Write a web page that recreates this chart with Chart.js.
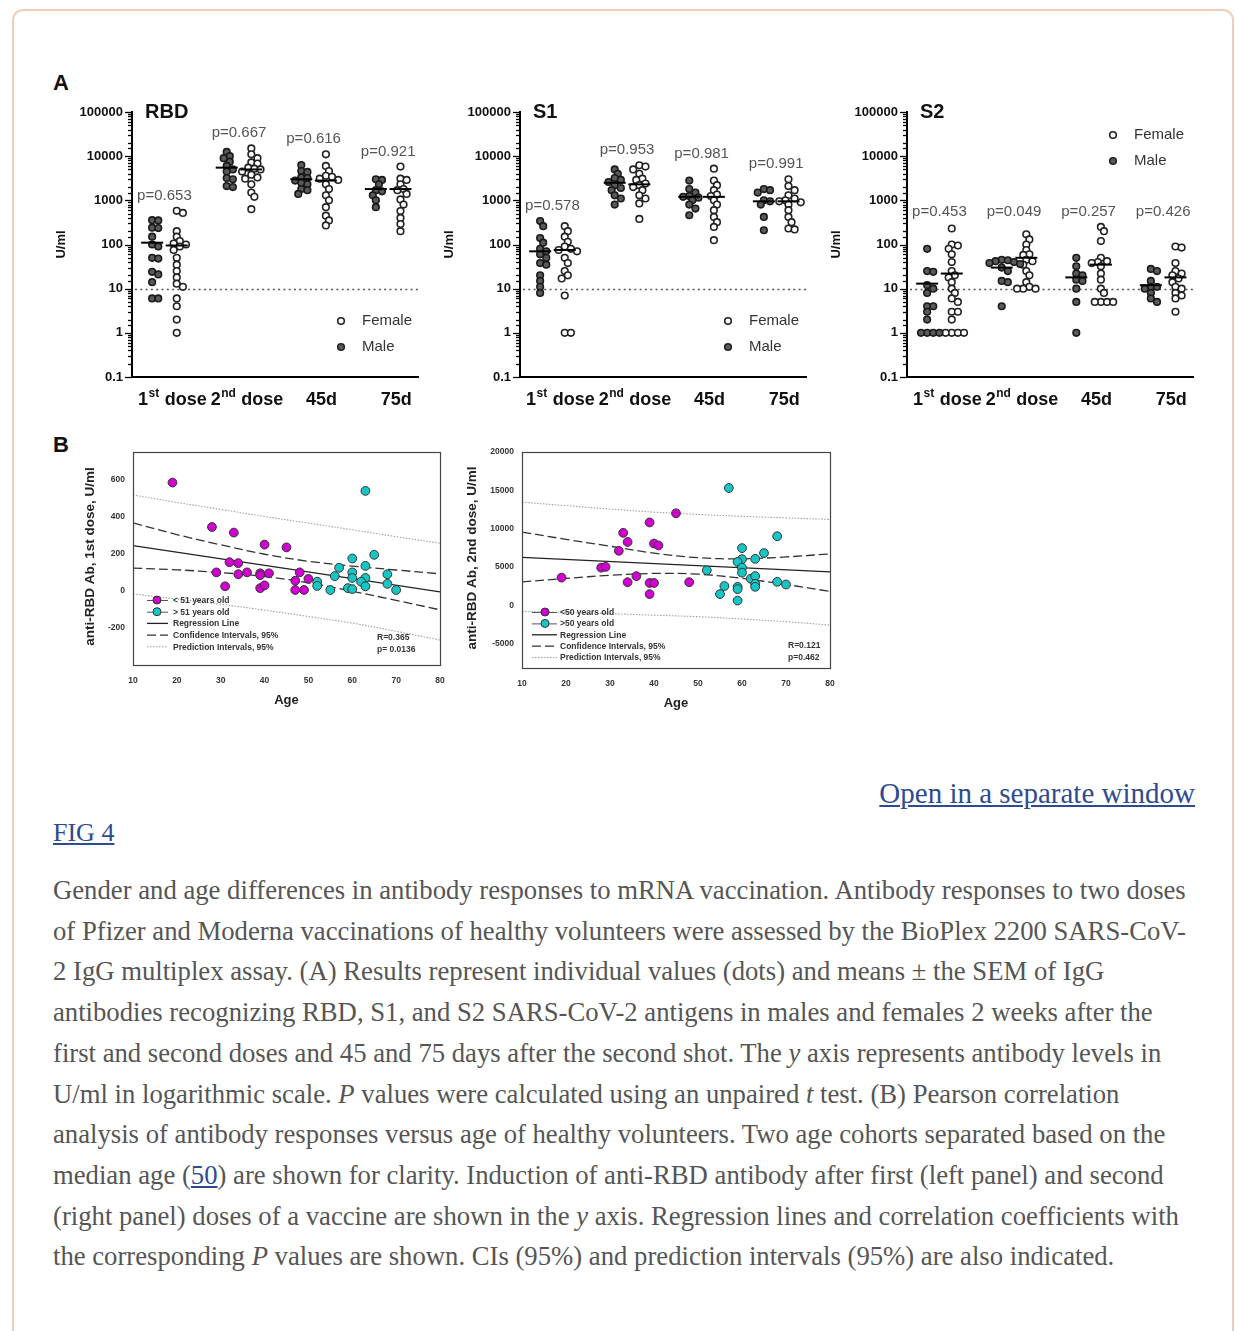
<!DOCTYPE html>
<html><head><meta charset="utf-8">
<script src="https://cdn.jsdelivr.net/npm/chart.js"></script>
<style>
html,body{margin:0;padding:0;background:#fff;}
body{width:1235px;height:1331px;overflow:hidden;position:relative;font-family:'Liberation Sans',Arial,sans-serif;}
.card{position:absolute;left:12px;top:9px;width:1222px;height:1400px;border:2px solid #f1cdb9;border-radius:11px;box-sizing:border-box;}
canvas{position:absolute;}
.plabel{position:absolute;font-weight:bold;font-size:22px;line-height:22px;color:#111;}
.open{position:absolute;right:40px;top:777px;font-family:'Liberation Serif','Times New Roman',serif;font-size:29px;line-height:32px;color:#2f4b8f;text-decoration:underline;white-space:nowrap;}
.fig{position:absolute;left:53px;top:818px;font-family:'Liberation Serif','Times New Roman',serif;font-size:26px;line-height:30px;color:#2f4b8f;text-decoration:underline;}
.cap{position:absolute;left:53px;top:870px;font-family:'Liberation Serif','Times New Roman',serif;font-size:26.7px;line-height:40.7px;color:#555;white-space:nowrap;}
.cap a{color:#2f4b8f;text-decoration:underline;}
</style></head>
<body>
<div class="card"></div>
<div class="plabel" style="left:53px;top:72px;">A</div>
<div class="plabel" style="left:53px;top:434px;">B</div>
<canvas id="rbd" width="376" height="323" style="left:55px;top:92px;"></canvas>
<canvas id="s1" width="376" height="323" style="left:443px;top:92px;"></canvas>
<canvas id="s2" width="376" height="323" style="left:830px;top:92px;"></canvas>
<canvas id="b1" width="380" height="280" style="left:75px;top:440px;"></canvas>
<canvas id="b2" width="381" height="283" style="left:464px;top:440px;"></canvas>
<div class="open">Open in a separate window</div>
<div class="fig">FIG 4</div>
<div class="cap">
<div>Gender and age differences in antibody responses to mRNA vaccination. Antibody responses to two doses</div>
<div>of Pfizer and Moderna vaccinations of healthy volunteers were assessed by the BioPlex 2200 SARS-CoV-</div>
<div>2 IgG multiplex assay. (A) Results represent individual values (dots) and means ± the SEM of IgG</div>
<div>antibodies recognizing RBD, S1, and S2 SARS-CoV-2 antigens in males and females 2 weeks after the</div>
<div>first and second doses and 45 and 75 days after the second shot. The <i>y</i> axis represents antibody levels in</div>
<div>U/ml in logarithmic scale. <i>P</i> values were calculated using an unpaired <i>t</i> test. (B) Pearson correlation</div>
<div>analysis of antibody responses versus age of healthy volunteers. Two age cohorts separated based on the</div>
<div>median age (<a>50</a>) are shown for clarity. Induction of anti-RBD antibody after first (left panel) and second</div>
<div>(right panel) doses of a vaccine are shown in the <i>y</i> axis. Regression lines and correlation coefficients with</div>
<div>the corresponding <i>P</i> values are shown. CIs (95%) and prediction intervals (95%) are also indicated.</div>
</div>
<script>
// ---------------- DATA ----------------
const categories = ['1st dose', '2nd dose', '45d', '75d'];
const cutoffValue = 10;
const legendA = ['Female', 'Male'];

const rbdMale = [
  [355, 350, 240, 235, 150, 100, 90, 50, 48, 24, 21, 14, 6, 6],
  [12500, 10000, 9000, 7500, 6000, 5000, 4500, 3200, 3000, 2100, 2000],
  [6300, 4600, 4400, 3300, 3200, 2800, 2500, 2300, 1800, 1700, 1400],
  [3000, 2900, 2300, 1700, 1600, 1300, 1000, 700]
];
const rbdFemale = [
  [580, 520, 200, 150, 120, 105, 100, 90, 75, 50, 35, 25, 18, 13, 11, 6, 4, 2, 1],
  [15000, 11000, 9000, 7200, 6800, 5500, 5200, 5000, 4500, 3800, 3300, 3100, 2300, 1500, 1200, 630],
  [11000, 6000, 4600, 3600, 3400, 3100, 2900, 2300, 1800, 1300, 1000, 700, 450, 350, 270],
  [5800, 3100, 2900, 2300, 1800, 1700, 1400, 1050, 800, 570, 400, 290, 200]
];
const rbdMaleMean = [110, 5500, 3000, 1800];
const rbdFemaleMean = [95, 5000, 2800, 1800];
const rbdP = ['p=0.653', 'p=0.667', 'p=0.616', 'p=0.921'];

const s1Male = [
  [340, 260, 140, 110, 80, 70, 60, 50, 38, 35, 20, 15, 11, 8],
  [5000, 4000, 3200, 2900, 2600, 2200, 1900, 1700, 1300, 1100, 800],
  [2800, 1800, 1500, 1250, 1200, 1150, 1000, 800, 650, 460],
  [1800, 1700, 1500, 1000, 950, 800, 420, 210]
];
const s1Female = [
  [260, 200, 150, 115, 90, 80, 75, 70, 50, 38, 25, 20, 17, 7, 1, 1],
  [6200, 5800, 5000, 4000, 3100, 2900, 2400, 2200, 2000, 1700, 1300, 1100, 850, 380],
  [5200, 2800, 2200, 1700, 1350, 1250, 1000, 800, 600, 420, 320, 250, 125],
  [3000, 2100, 1700, 1300, 1100, 1000, 950, 900, 800, 600, 420, 320, 230, 220]
];
const s1MaleMean = [70, 2500, 1200, 950];
const s1FemaleMean = [75, 2300, 1200, 950];
const s1P = ['p=0.578', 'p=0.953', 'p=0.981', 'p=0.991'];

const s2Male = [
  [80, 25, 24, 12, 10, 8, 4, 4, 3, 2, 1, 1, 1, 1],
  [45, 44, 42, 40, 38, 36, 30, 25, 15, 14, 4],
  [50, 32, 22, 20, 16, 15, 10, 5, 1],
  [28, 25, 15, 11, 11, 10, 8, 6, 5]
];
const s2Female = [
  [230, 100, 95, 80, 60, 40, 25, 20, 18, 14, 10, 8, 6, 5, 3, 3, 2, 1, 1, 1, 1],
  [170, 130, 100, 75, 60, 58, 45, 42, 35, 25, 20, 14, 11, 10, 10, 10],
  [250, 200, 120, 50, 42, 40, 38, 32, 22, 16, 10, 8, 5, 5, 5, 5],
  [90, 85, 38, 25, 22, 20, 17, 14, 11, 10, 8, 7, 6, 3]
];
const s2MaleMean = [13, 30, 18, 12];
const s2FemaleMean = [22, 50, 35, 18];
const s2P = ['p=0.453', 'p=0.049', 'p=0.257', 'p=0.426'];

// Panel B
const bXTicks = [10, 20, 30, 40, 50, 60, 70, 80];
const b1YTicks = [-200, 0, 200, 400, 600];
const b2YTicks = [-5000, 0, 5000, 10000, 15000, 20000];

const b1YoungAge = [19, 28, 33, 40, 45, 32, 34, 29, 34, 36, 39, 39, 41, 31, 39, 40, 48, 47, 50, 47, 49];
const b1YoungVal = [585, 345, 315, 250, 235, 155, 150, 100, 90, 100, 95, 85, 95, 25, 15, 30, 100, 55, 65, 5, 5];
const b1OldAge = [63, 65, 60, 63, 57, 60, 68, 56, 60, 63, 62, 52, 52, 55, 59, 60, 63, 68, 70];
const b1OldVal = [540, 195, 175, 135, 125, 100, 90, 80, 70, 70, 50, 50, 27, 5, 15, 10, 25, 38, 5];
const b1RegAges = [10, 80];
const b1Reg = [245, -5];
const b1BandAges = [10, 20, 30, 40, 50, 60, 70, 80];
const b1CiUpper = [367, 304, 249, 198, 160, 134, 113, 92];
const b1CiLower = [123, 114, 99, 78, 44, -2, -51, -102];
const b1PiUpper = [518, 478, 440, 402, 366, 330, 293, 257];
const b1PiLower = [-16, -44, -72, -104, -138, -174, -218, -265];
const b1Legend = ['< 51 years old', '> 51 years old', 'Regression Line', 'Confidence Intervals, 95%', 'Prediction Intervals, 95%'];
const b1Stats = ['R=0.365', 'p= 0.0136'];

const b2YoungAge = [19, 28, 29, 32, 33, 34, 34, 36, 39, 39, 39, 40, 40, 41, 45, 48];
const b2YoungVal = [3600, 4900, 5000, 7100, 9450, 8250, 3000, 3800, 10800, 1450, 2900, 2900, 8050, 7800, 12000, 3000];
const b2OldAge = [57, 68, 60, 65, 63, 60, 59, 60, 60, 52, 62, 63, 63, 63, 68, 70, 56, 59, 59, 55, 59];
const b2OldVal = [15300, 9000, 7450, 6800, 6050, 6000, 5650, 4900, 4250, 4550, 3450, 3800, 2800, 2400, 3050, 2700, 2500, 2400, 2100, 1450, 600];
const b2RegAges = [10, 80];
const b2Reg = [6250, 4350];
const b2BandAges = [10, 20, 30, 40, 50, 60, 70, 80];
const b2CiUpper = [9550, 8600, 7700, 6800, 6200, 6050, 6300, 6700];
const b2CiLower = [3050, 3500, 3900, 4150, 4050, 3500, 2700, 1800];
const b2PiUpper = [13450, 13000, 12550, 12150, 11850, 11600, 11400, 11200];
const b2PiLower = [-800, -950, -1100, -1300, -1500, -1800, -2150, -2600];
const b2Legend = ['<50 years old', '>50 years old', 'Regression Line', 'Confidence Intervals, 95%', 'Prediction Intervals, 95%'];
const b2Stats = ['R=0.121', 'p=0.462'];

// ---------------- HELPERS ----------------
const FONT = "'Liberation Sans', Arial, Helvetica, sans-serif";
const isPow10 = v => Math.abs(Math.log10(v) - Math.round(Math.log10(v))) < 1e-6;
const X_MIN = 0.565, X_MAX = 4.4, COL_OFF = 0.165;
const PX_X = 289 / (X_MAX - X_MIN), PX_DEC = 265 / 6;

function swarm(values, center) {
  const D = 6.2;
  const placed = [];
  const order = values.map((v, i) => i).sort((a, b) => values[b] - values[a]);
  const cands = [0];
  for (let k = 1; k <= 16; k++) cands.push(k * D / 2, -k * D / 2);
  const out = [];
  order.forEach(i => {
    const yy = Math.log10(values[i]) * PX_DEC;
    let off = 0;
    for (const c of cands) {
      if (placed.every(p => Math.hypot(p.x - c, p.y - yy) >= D * 0.85)) { off = c; break; }
    }
    placed.push({x: off, y: yy});
    out.push({x: center + off / PX_X, y: values[i]});
  });
  return out;
}

function drawSupLabel(ctx, text, cx, baseline, size) {
  const m = text.match(/^(\d+)(st|nd|rd|th)(.*)$/);
  const big = `bold ${size}px ${FONT}`, small = `bold ${Math.round(size * 0.65)}px ${FONT}`;
  ctx.textAlign = 'left'; ctx.textBaseline = 'alphabetic';
  if (!m) { ctx.font = big; const w = ctx.measureText(text).width; ctx.fillText(text, cx - w / 2, baseline); return; }
  ctx.font = big; const w1 = ctx.measureText(m[1]).width; const w3 = ctx.measureText(m[3]).width;
  ctx.font = small; const w2 = ctx.measureText(m[2]).width;
  let x = cx - (w1 + w2 + w3 + 1) / 2;
  ctx.font = big; ctx.fillText(m[1], x, baseline); x += w1 + 0.5;
  ctx.font = small; ctx.fillText(m[2], x, baseline - size * 0.42); x += w2 + 0.5;
  ctx.font = big; ctx.fillText(m[3], x, baseline);
}

function drawMarker(ctx, x, y, filled) {
  ctx.beginPath(); ctx.arc(x, y, 3.3, 0, Math.PI * 2);
  ctx.fillStyle = filled ? '#5a5a5a' : '#fff'; ctx.fill();
  ctx.lineWidth = 1.6; ctx.strokeStyle = '#222'; ctx.stroke();
}

function makePanelA(id, cfg) {
  const plugin = {
    id: 'panelA_' + id,
    beforeDatasetsDraw(chart) {
      const {ctx, chartArea: a, scales: {y}} = chart;
      const py = Math.round(y.getPixelForValue(cutoffValue)) + 0.5;
      ctx.save(); ctx.strokeStyle = '#555'; ctx.lineWidth = 1.6; ctx.setLineDash([2, 3.3]);
      ctx.beginPath(); ctx.moveTo(a.left + 3, py); ctx.lineTo(a.right, py); ctx.stroke(); ctx.restore();
    },
    afterDraw(chart) {
      const {ctx, chartArea: a, scales: {x, y}} = chart;
      ctx.save();
      ctx.strokeStyle = '#000'; ctx.lineWidth = 1.3;
      y.ticks.forEach(t => {
        const py = Math.round(y.getPixelForValue(t.value)) + 0.5;
        const len = isPow10(t.value) ? 6 : 3;
        ctx.beginPath(); ctx.moveTo(a.left - 1 - len, py); ctx.lineTo(a.left, py); ctx.stroke();
      });
      ctx.fillStyle = '#111'; ctx.font = `bold 20px ${FONT}`; ctx.textAlign = 'left'; ctx.textBaseline = 'alphabetic';
      ctx.fillText(cfg.title, a.left + 13, a.top + 6);
      ctx.save(); ctx.translate(a.left - 71, (a.top + a.bottom) / 2); ctx.rotate(-Math.PI / 2);
      ctx.font = `bold 13px ${FONT}`; ctx.textAlign = 'center'; ctx.textBaseline = 'middle';
      ctx.fillText('U/ml', 0, 0); ctx.restore();
      // p labels
      const tops = categories.map((c, i) => y.getPixelForValue(Math.max(...cfg.male[i], ...cfg.female[i])) - 11);
      const level = Math.min(...tops);
      ctx.font = `15px ${FONT}`; ctx.fillStyle = '#555'; ctx.textAlign = 'center';
      cfg.p.forEach((t, i) => ctx.fillText(t, x.getPixelForValue(i + 1), cfg.alignP ? level : tops[i]));
      // categories
      ctx.fillStyle = '#111';
      categories.forEach((c, i) => drawSupLabel(ctx, c, x.getPixelForValue(i + 1) + 8, a.bottom + 28, 18));
      // legend
      const lx = a.left + cfg.legend[0], ly = a.top + cfg.legend[1];
      legendA.forEach((t, i) => {
        drawMarker(ctx, lx, ly + i * 26, i === 1);
        ctx.fillStyle = '#333'; ctx.font = `15px ${FONT}`; ctx.textAlign = 'left'; ctx.textBaseline = 'middle';
        ctx.fillText(t, lx + 21, ly + i * 26);
      });
      ctx.restore();
    }
  };
  const maleData = cfg.male.flatMap((vals, i) => swarm(vals, i + 1 - COL_OFF));
  const femaleData = cfg.female.flatMap((vals, i) => swarm(vals, i + 1 + COL_OFF));
  const meanLine = (arr, side) => ({
    data: arr.map((m, i) => ({x: i + 1 + side, y: m})),
    pointStyle: 'line', pointRadius: 11, pointBorderWidth: 2, pointBorderColor: '#000', pointBackgroundColor: '#000'
  });
  new Chart(document.getElementById(id), {
    type: 'scatter',
    data: {datasets: [
      meanLine(cfg.maleMean, -COL_OFF),
      meanLine(cfg.femaleMean, COL_OFF),
      {data: maleData, pointRadius: 3.3, pointBorderWidth: 1.6, pointBorderColor: '#1a1a1a', pointBackgroundColor: '#5a5a5a'},
      {data: femaleData, pointRadius: 3.3, pointBorderWidth: 1.6, pointBorderColor: '#222', pointBackgroundColor: '#fff'}
    ]},
    options: {
      responsive: false, animation: false, events: [],
      layout: {padding: {top: 20, right: 10, left: 0, bottom: 0}},
      plugins: {legend: {display: false}, tooltip: {enabled: false}},
      scales: {
        x: {type: 'linear', min: X_MIN, max: X_MAX, ticks: {display: false},
            grid: {display: false, drawTicks: false}, border: {display: true, color: '#000', width: 2},
            afterFit(s) { s.height = 38; }},
        y: {type: 'logarithmic', min: 0.1, max: 100000,
            ticks: {autoSkip: false, padding: 3, color: '#111', font: {family: FONT, size: 13, weight: 'bold'},
                    callback: v => isPow10(v) ? String(v) : ''},
            grid: {display: false, drawTicks: true, tickLength: 6},
            border: {display: true, color: '#000', width: 2},
            afterFit(s) { s.width = 77; }}
      }
    },
    plugins: [plugin]
  });
}

makePanelA('rbd', {title: 'RBD', male: rbdMale, female: rbdFemale, maleMean: rbdMaleMean, femaleMean: rbdFemaleMean, p: rbdP, alignP: false, legend: [209, 209]});
makePanelA('s1', {title: 'S1', male: s1Male, female: s1Female, maleMean: s1MaleMean, femaleMean: s1FemaleMean, p: s1P, alignP: false, legend: [208, 209]});
makePanelA('s2', {title: 'S2', male: s2Male, female: s2Female, maleMean: s2MaleMean, femaleMean: s2FemaleMean, p: s2P, alignP: true, legend: [206, 23]});

function makePanelB(id, cfg) {
  const pts = (ages, vals) => ages.map((a, i) => ({x: a, y: vals[i]}));
  const MAG = '#d000d0', CYAN = '#16c6c6';
  const plugin = {
    id: 'panelB_' + id,
    afterDraw(chart) {
      const {ctx, chartArea: a} = chart;
      ctx.save();
      ctx.strokeStyle = '#444'; ctx.lineWidth = 1.2;
      ctx.strokeRect(Math.round(a.left) + 0.5, Math.round(a.top) + 0.5, Math.round(a.right - a.left), Math.round(a.bottom - a.top));
      // legend
      const L = cfg.leg;
      ctx.font = `bold 8.5px ${FONT}`; ctx.textBaseline = 'middle'; ctx.textAlign = 'left';
      cfg.legend.forEach((t, i) => {
        const yy = a.top + L.y0 + i * L.dy;
        if (i < 2) {
          ctx.beginPath(); ctx.moveTo(a.left + L.l0, yy + 0.5); ctx.lineTo(a.left + L.l1, yy + 0.5);
          ctx.strokeStyle = '#555'; ctx.lineWidth = 1; ctx.stroke();
          ctx.beginPath(); ctx.arc(a.left + L.mx, yy, 4, 0, Math.PI * 2);
          ctx.fillStyle = i === 0 ? MAG : CYAN; ctx.fill(); ctx.lineWidth = 1; ctx.strokeStyle = '#333'; ctx.stroke();
        } else {
          ctx.beginPath(); ctx.moveTo(a.left + L.l0, yy); ctx.lineTo(a.left + L.l1, yy);
          if (i === 2) { ctx.setLineDash([]); ctx.strokeStyle = '#222'; ctx.lineWidth = 1.3; }
          if (i === 3) { ctx.setLineDash([9, 4]); ctx.strokeStyle = '#333'; ctx.lineWidth = 1.3; }
          if (i === 4) { ctx.setLineDash([1.5, 1.5]); ctx.strokeStyle = '#999'; ctx.lineWidth = 1; }
          ctx.stroke(); ctx.setLineDash([]);
        }
        ctx.fillStyle = '#333'; ctx.fillText(t, a.left + L.tx, yy + 0.5);
      });
      cfg.stats.forEach((t, i) => ctx.fillText(t, a.left + cfg.statPos[0], a.top + cfg.statPos[1] + i * 12));
      // axis titles
      ctx.fillStyle = '#222'; ctx.font = `bold 13px ${FONT}`; ctx.textAlign = 'center';
      ctx.fillText('Age', (a.left + a.right) / 2, a.bottom + 35);
      ctx.save(); ctx.translate(a.left - cfg.yTitleOff, (a.top + a.bottom) / 2 - 2); ctx.rotate(-Math.PI / 2);
      ctx.font = `bold 13.5px ${FONT}`; ctx.fillText(cfg.yTitle, 0, 0); ctx.restore();
      ctx.restore();
    }
  };
  const line = (ages, vals, color, dash, width) => ({
    data: pts(ages, vals), showLine: true, pointRadius: 0, borderColor: color, borderDash: dash,
    borderWidth: width, tension: 0.35, fill: false
  });
  const tickFont = {family: FONT, size: 8.5, weight: 'bold'};
  new Chart(document.getElementById(id), {
    type: 'scatter',
    data: {datasets: [
      {data: pts(cfg.youngAge, cfg.youngVal), pointRadius: 4.4, pointBorderWidth: 1, pointBorderColor: '#333', pointBackgroundColor: MAG},
      {data: pts(cfg.oldAge, cfg.oldVal), pointRadius: 4.4, pointBorderWidth: 1, pointBorderColor: '#333', pointBackgroundColor: CYAN},
      line(cfg.regAges, cfg.reg, '#222', [], 1.3),
      line(cfg.bandAges, cfg.ciU, '#333', [9, 4], 1.3),
      line(cfg.bandAges, cfg.ciL, '#333', [9, 4], 1.3),
      line(cfg.bandAges, cfg.piU, '#a0a0a0', [1.5, 1.5], 1.1),
      line(cfg.bandAges, cfg.piL, '#a0a0a0', [1.5, 1.5], 1.1)
    ]},
    options: {
      responsive: false, animation: false, events: [],
      layout: {padding: {top: 12, right: 15, left: 0, bottom: 0}},
      plugins: {legend: {display: false}, tooltip: {enabled: false}},
      scales: {
        x: {type: 'linear', min: 10, max: 80,
            afterBuildTicks(s) { s.ticks = bXTicks.map(v => ({value: v})); },
            ticks: {autoSkip: false, padding: 7, color: '#333', font: tickFont, callback: v => String(v)},
            grid: {display: false, drawTicks: true, tickLength: 4}, border: {display: false},
            afterFit(s) { s.height = 55; }},
        y: {type: 'linear', min: cfg.yMin, max: cfg.yMax,
            afterBuildTicks(s) { s.ticks = cfg.yTicks.map(v => ({value: v})); },
            ticks: {autoSkip: false, padding: 4, color: '#333', font: tickFont, callback: v => String(v)},
            grid: {display: false, drawTicks: true, tickLength: 4}, border: {display: false},
            afterFit(s) { s.width = 58; }}
      }
    },
    plugins: [plugin]
  });
}

makePanelB('b1', {
  youngAge: b1YoungAge, youngVal: b1YoungVal, oldAge: b1OldAge, oldVal: b1OldVal,
  regAges: b1RegAges, reg: b1Reg, bandAges: b1BandAges, ciU: b1CiUpper, ciL: b1CiLower, piU: b1PiUpper, piL: b1PiLower,
  yMin: -400, yMax: 750, yTicks: b1YTicks, legend: b1Legend, stats: b1Stats,
  leg: {y0: 148, dy: 11.7, mx: 24, l0: 14, l1: 35, tx: 40}, statPos: [244, 186],
  yTitle: 'anti-RBD Ab, 1st dose, U/ml', yTitleOff: 43
});
makePanelB('b2', {
  youngAge: b2YoungAge, youngVal: b2YoungVal, oldAge: b2OldAge, oldVal: b2OldVal,
  regAges: b2RegAges, reg: b2Reg, bandAges: b2BandAges, ciU: b2CiUpper, ciL: b2CiLower, piU: b2PiUpper, piL: b2PiLower,
  yMin: -8200, yMax: 20000, yTicks: b2YTicks, legend: b2Legend, stats: b2Stats,
  leg: {y0: 160, dy: 11.4, mx: 23, l0: 10, l1: 35, tx: 38}, statPos: [266, 194],
  yTitle: 'anti-RBD Ab, 2nd dose, U/ml', yTitleOff: 50
});
</script>
</body></html>
